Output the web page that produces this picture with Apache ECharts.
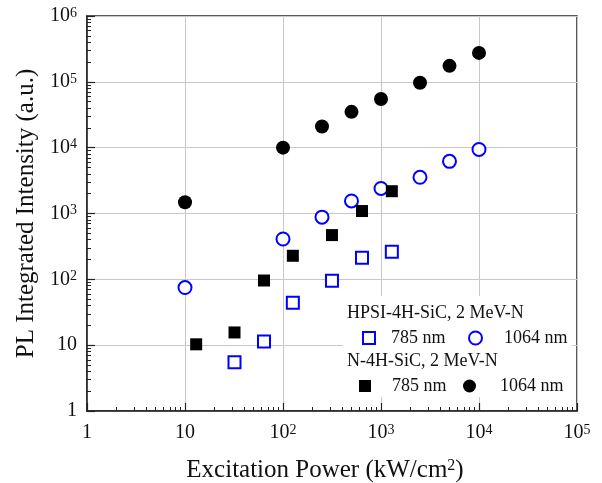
<!DOCTYPE html>
<html>
<head>
<meta charset="utf-8">
<script src="https://cdn.jsdelivr.net/npm/echarts@6/dist/echarts.min.js"></script>
<style>
  html, body { margin: 0; padding: 0; background: #fff; }
  #main { width: 602px; height: 483px; }
</style>
</head>
<body>
<div id="main"></div>
<script>
// 激发功率 (kW/cm2) 与 PL 积分强度
const hpsi785X = [32, 64, 126, 316, 640, 1290];
const hpsi785Y = [5.5, 11.4, 44, 95, 212, 262];
const hpsi1064X = [10, 100, 250, 500, 1000, 2500, 5000, 10000];
const hpsi1064Y = [75, 410, 880, 1550, 2400, 3550, 6200, 9400];
const n785X = [13, 32, 64, 126, 316, 640, 1290];
const n785Y = [10.3, 15.6, 96, 228, 470, 1090, 2180];
const n1064X = [10, 100, 250, 500, 1000, 2500, 5000, 10000];
const n1064Y = [1480, 10000, 21000, 35000, 55000, 97000, 175000, 275000];

// 对数轴小刻度 2..9
const minorX = [];
const minorY = [];
for (let e = 0; e < 6; e++) {
  for (let m = 2; m <= 9; m++) {
    const v = m * Math.pow(10, e);
    if (e < 5) minorX.push(v);
    minorY.push(v);
  }
}

const FONT = '"Liberation Serif", "Times New Roman", serif';
const BLUE = '#0000ff';

function pair(xs, ys) {
  return xs.map((x, i) => [x, ys[i]]);
}

function powLabel(v) {
  const e = Math.round(Math.log10(v));
  if (e === 0) return '1';
  if (e === 1) return '10';
  return '10{sup|' + e + '}';
}

const labelRich = {
  sup: { fontSize: 14, fontFamily: FONT, color: '#111', verticalAlign: 'top', lineHeight: 12 }
};

// 单项图例
function oneLegend(name, left, top, size, gap) {
  return {
    data: [name], left: left, top: top, itemWidth: size, itemHeight: size, padding: 0,
    textStyle: { fontFamily: FONT, fontSize: 18, color: '#111', padding: [0, 0, 0, gap] },
    formatter: n => n.split(' ')[1] + ' nm'
  };
}

const chart = echarts.init(document.getElementById('main'));

const option = {
  backgroundColor: '#fff',
  animation: false,
  textStyle: { fontFamily: FONT },
  grid: {
    left: 87, right: 25, top: 16, bottom: 72,
    outerBoundsMode: 'none', containLabel: false,
    show: true, borderColor: '#222', borderWidth: 1.5, backgroundColor: 'transparent'
  },
  xAxis: [
    {
      type: 'log', min: 1, max: 100000, splitNumber: 5, logBase: 10,
      name: 'Excitation Power (kW/cm{sup|2})',
      nameLocation: 'middle', nameGap: 47,
      nameTextStyle: {
        fontFamily: FONT, fontSize: 25, color: '#111', padding: [0, 14, 0, 0],
        rich: { sup: { fontSize: 16, fontFamily: FONT, color: '#111', verticalAlign: 'top', lineHeight: 16 } }
      },
      axisLine: { lineStyle: { color: '#222', width: 1.5 } },
      axisTick: { inside: true, length: 8, lineStyle: { color: '#222', width: 1.2 } },
      axisLabel: {
        fontFamily: FONT, fontSize: 20, color: '#111', margin: 12,
        formatter: powLabel, rich: labelRich
      },
      splitLine: { show: true, lineStyle: { color: '#c8c8c8', width: 1 } }
    },
    {
      type: 'log', min: 1, max: 100000, position: 'bottom', gridIndex: 0,
      axisLine: { show: false },
      axisLabel: { show: false },
      splitLine: { show: false },
      axisTick: { inside: true, length: 4, customValues: minorX, lineStyle: { color: '#222', width: 1 } }
    }
  ],
  yAxis: [
    {
      type: 'log', min: 1, max: 1000000, splitNumber: 6, logBase: 10,
      name: 'PL Integrated Intensity (a.u.)',
      nameLocation: 'middle', nameGap: 47,
      nameTextStyle: { fontFamily: FONT, fontSize: 25, color: '#111' },
      axisLine: { lineStyle: { color: '#222', width: 1.5 } },
      axisTick: { inside: true, length: 8, lineStyle: { color: '#222', width: 1.2 } },
      axisLabel: {
        fontFamily: FONT, fontSize: 20, color: '#111', margin: 10,
        formatter: powLabel, rich: labelRich
      },
      splitLine: { show: true, lineStyle: { color: '#c8c8c8', width: 1 } }
    },
    {
      type: 'log', min: 1, max: 1000000, position: 'left', gridIndex: 0,
      axisLine: { show: false },
      axisLabel: { show: false },
      splitLine: { show: false },
      axisTick: { inside: true, length: 4, customValues: minorY, lineStyle: { color: '#222', width: 1 } }
    }
  ],
  graphic: [
    // 图例背景
    {
      type: 'rect', z: 1, silent: true,
      shape: { x: 343, y: 296, width: 229, height: 101 },
      style: { fill: '#fff' }
    },
    {
      type: 'text', z: 5, left: 347, top: 304,
      style: { text: 'HPSI-4H-SiC, 2 MeV-N', font: '18px ' + FONT, fill: '#111' }
    },
    {
      type: 'text', z: 5, left: 347, top: 352,
      style: { text: 'N-4H-SiC, 2 MeV-N', font: '18px ' + FONT, fill: '#111' }
    }
  ],
  legend: [
    oneLegend('HPSI 785', 362, 329, 12, 11),
    oneLegend('HPSI 1064', 468, 329, 13, 17),
    oneLegend('N 785', 359, 377, 12, 16),
    oneLegend('N 1064', 463, 377, 13, 19)
  ],
  series: [
    {
      name: 'HPSI 785', type: 'scatter', symbol: 'rect', symbolSize: 12, z: 3,
      itemStyle: { color: '#fff', borderColor: BLUE, borderWidth: 2, opacity: 1 },
      data: pair(hpsi785X, hpsi785Y)
    },
    {
      name: 'HPSI 1064', type: 'scatter', symbol: 'circle', symbolSize: 13, z: 3,
      itemStyle: { color: '#fff', borderColor: BLUE, borderWidth: 2, opacity: 1 },
      data: pair(hpsi1064X, hpsi1064Y)
    },
    {
      name: 'N 785', type: 'scatter', symbol: 'rect', symbolSize: 12, z: 3,
      itemStyle: { color: '#000', opacity: 1 },
      data: pair(n785X, n785Y)
    },
    {
      name: 'N 1064', type: 'scatter', symbol: 'circle', symbolSize: 14, z: 3,
      itemStyle: { color: '#000', opacity: 1 },
      data: pair(n1064X, n1064Y)
    }
  ]
};

chart.setOption(option);
</script>
</body>
</html>
